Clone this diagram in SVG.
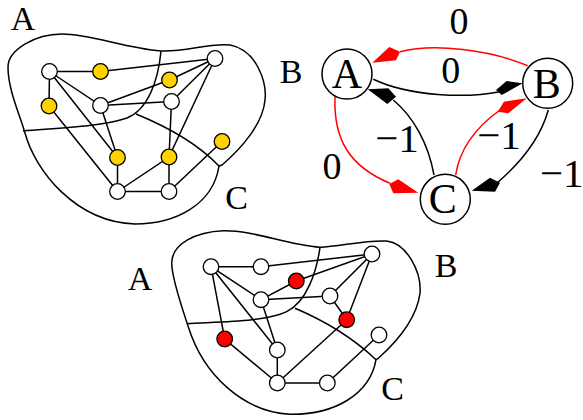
<svg xmlns="http://www.w3.org/2000/svg" width="583" height="420" viewBox="0 0 583 420">
<style>
text{font-family:"Liberation Serif","Times New Roman",serif;fill:#000;text-anchor:middle}
.r{font-size:34px}
.g{font-size:42px}
.n{font-size:38px}
.m{font-size:41px}
.o{fill:none;stroke:#000;stroke-width:1.5}
.e{stroke:#000;stroke-width:1.5;fill:none}
.w,.y,.d,.b{stroke:#000;stroke-width:1.3}
.w{fill:#fff}.y{fill:#ffd200}.d{fill:#f00}
.b{fill:#fff;stroke-width:1.5}
.cr{fill:none;stroke:#f00;stroke-width:1.5}
.ck{fill:none;stroke:#000;stroke-width:1.5}
.hr{fill:#f00}.hk{fill:#000}
</style>
<g id="regions-top">
<path class="o" d="M161,51C125,48 90,34 62,34C35,34 8,50 8,67C8,90 20,115 25,133C35,170 75,222 135,224C175,224 213,205 219,166"/>
<path class="o" d="M161,51C187,52 207,43 230,45C257,50 267,83 265,100C263,123 243,147 222,165L219,166"/>
<path class="o" d="M161,51C158,83 147,110 127,118C100,127 60,128 23,131"/>
<path class="o" d="M136,114C163,125 197,143 219,166"/>
</g>
<g id="edges-top" class="e">
<path d="M49.5,71.5H100.5L215,58.5L169.5,80L100.5,105.5L171.5,101.5L215,58.5L169,157V191.500M49.5,71.5L49,106L117.500,191.500V157.500L49.500,71.500M49.500,71.500L100.500,105.500L117.500,157.500M117.500,191.500L169,157L171.500,101.500M117.500,191.500H169L222,141.500"/>
</g>
<g id="nodes-top">
<circle class="w" cx="49.500" cy="71.500" r="7.800"/>
<circle class="y" cx="100.500" cy="71.500" r="7.800"/>
<circle class="w" cx="215" cy="58.500" r="7.800"/>
<circle class="y" cx="169.500" cy="80" r="7.800"/>
<circle class="w" cx="100.500" cy="105.500" r="7.800"/>
<circle class="w" cx="171.500" cy="101.500" r="7.800"/>
<circle class="y" cx="49" cy="106" r="7.800"/>
<circle class="y" cx="117.500" cy="157.500" r="7.800"/>
<circle class="y" cx="169" cy="157" r="7.800"/>
<circle class="y" cx="222" cy="141.500" r="7.800"/>
<circle class="w" cx="117.500" cy="191.500" r="7.800"/>
<circle class="w" cx="169" cy="191.500" r="7.800"/>
</g>
<g id="labels-top">
<text class="r" x="23" y="30">A</text>
<text class="r" x="291" y="82.700">B</text>
<text class="r" x="236.700" y="209">C</text>
</g>
<g id="regions-bottom">
<path class="o" d="M320,247.300C286.700,245 253.300,230 223.300,230.700C196.700,231.700 171.700,243.300 171.700,263.300C171.700,278.300 183.300,311.700 188.300,326.700C203.300,375 243.300,411.700 290,414.300C333.300,415 370,395 376,359.700"/>
<path class="o" d="M320,247.300C340,246.700 363.300,240 386.700,241C406.700,243.300 421.700,271.700 420,293.300C416.700,318.300 396.700,341.700 378.300,358.300L376,359.700"/>
<path class="o" d="M320,247.300C316.700,271.700 306.700,301.700 286.700,311.700C266.700,321.700 220,321.700 186.700,323.700"/>
<path class="o" d="M295,308.300C326.700,321.700 353.300,338.300 376,359.700"/>
</g>
<g id="edges-bottom" class="e">
<path d="M211,266.700H261L372,254L296.300,281L261,299.700L330,296L372,254L346.700,319.700L330,296M211,266.700L224.700,339L277.300,383V350L211,266.700M211,266.700L261,299.700L277.300,350M277.300,383L346.700,319.700M277.300,383H327.300L379,335"/>
</g>
<g id="nodes-bottom">
<circle class="w" cx="211" cy="266.700" r="7.800"/>
<circle class="w" cx="261" cy="266.700" r="7.800"/>
<circle class="w" cx="372" cy="254" r="7.800"/>
<circle class="d" cx="296.300" cy="281" r="7.800"/>
<circle class="w" cx="261" cy="299.700" r="7.800"/>
<circle class="w" cx="330" cy="296" r="7.800"/>
<circle class="d" cx="346.700" cy="319.700" r="7.800"/>
<circle class="d" cx="224.700" cy="339" r="7.800"/>
<circle class="w" cx="277.300" cy="350" r="7.800"/>
<circle class="w" cx="379" cy="335" r="7.800"/>
<circle class="w" cx="277.300" cy="383" r="7.800"/>
<circle class="w" cx="327.300" cy="383" r="7.800"/>
</g>
<g id="labels-bottom">
<text class="r" x="140" y="290">A</text>
<text class="r" x="446" y="276.700">B</text>
<text class="r" x="392.700" y="400">C</text>
</g>
<g id="connectors">
<path class="cr" d="M527.700,65.700C490,50 435,43 400,51.700"/>
<polygon class="hr" points="372.300,62.700 389.300,47 400,51.700 396,60.300"/>
<path class="ck" d="M373.300,79.300C410,96.700 466.700,98.300 500,91.700"/>
<polygon class="hk" points="522.700,83.300 506.700,81 496,90 501.700,95"/>
<path class="cr" d="M335,96.700C333.300,140 350,166.700 390,183.300"/>
<polygon class="hr" points="418.300,192.700 398.300,179.300 389.300,184 393.300,193.300"/>
<path class="ck" d="M393.300,100C413.300,116.700 428.300,143.300 434,175"/>
<polygon class="hk" points="367.700,89.300 388.300,88.300 396,96.700 387.300,104"/>
<path class="cr" d="M455.700,175C460,146.700 476.700,126.700 500,110"/>
<polygon class="hr" points="526.700,98.300 504,101.700 497.700,111.700 508.300,113.300"/>
<path class="ck" d="M548.300,110C540,140 520,163.300 496.700,183.300"/>
<polygon class="hk" points="471.700,190.700 490,177.700 500,182.700 495,191.700"/>
</g>
<g id="node-A"><circle class="b" cx="347" cy="74" r="25"/><text class="g" x="347" y="88.300">A</text></g>
<g id="node-B"><circle class="b" cx="547.700" cy="83.300" r="25"/><text class="g" x="546.700" y="98">B</text></g>
<g id="node-C"><circle class="b" cx="445.300" cy="199.300" r="25"/><text class="g" x="442.700" y="213">C</text></g>
<g id="edge-labels">
<text class="n" x="459" y="34">0</text>
<text class="n" x="450.700" y="83.300">0</text>
<text class="n" x="332" y="179">0</text>
<text class="m" x="397" y="152">−1</text>
<text class="m" x="499" y="149">−1</text>
<text class="m" x="561.700" y="186.700">−1</text>
</g>
</svg>
